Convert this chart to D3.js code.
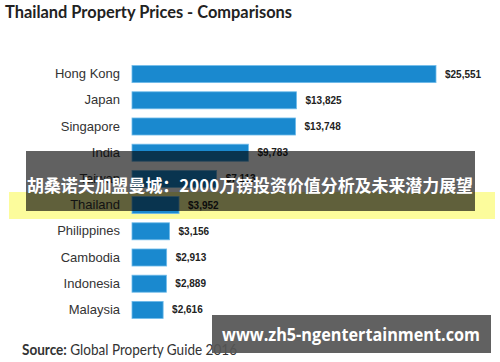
<!DOCTYPE html>
<html><head><meta charset="utf-8">
<script src="https://cdn.jsdelivr.net/npm/d3@7"></script>
<style>html,body{margin:0;padding:0;background:#fff;}svg{display:block;}</style>
</head><body>
<svg id="c" width="500" height="362"></svg>
<script>
const categories = ["Hong Kong","Japan","Singapore","India","Taiwan","Thailand","Philippines","Cambodia","Indonesia","Malaysia"];
const prices = [25551,13825,13748,9783,7113,3952,3156,2913,2889,2616];
const valueLabels = ["$25,551","$13,825","$13,748","$9,783","$7,113","$3,952","$3,156","$2,913","$2,889","$2,616"];
const titleText = "Thailand Property Prices - Comparisons";
const sourceBold = "Source:";
const sourceText = " Global Property Guide 2016";
const bannerText = "胡桑诺夫加盟曼城：2000万镑投资价值分析及未来潜力展望";
const watermarkText = "www.zh5-ngentertainment.com";

const svg = d3.select("#c");
const x = d3.scaleLinear().domain([0, 25551]).range([132, 436]);
const y = d3.scaleBand().domain(categories).range([61, 323]).paddingInner(0.35).paddingOuter(0.175);

// title
svg.append("text").attr("x",5).attr("y",18).attr("font-family","Lato, 'Open Sans', sans-serif")
  .attr("font-weight","bold").attr("font-size",16.5).attr("fill","#222")
  .attr("textLength",287).attr("lengthAdjust","spacingAndGlyphs").text(titleText);

// yellow band (behind bars)
svg.append("rect").attr("x",9).attr("y",192).attr("width",486).attr("height",27).attr("fill","#fcfc9c");

// bars
svg.append("g").selectAll("rect").data(categories).join("rect")
  .attr("x", x(0)).attr("y", d=>y(d)).attr("width",(d,i)=>x(prices[i])-x(0)).attr("height",y.bandwidth())
  .attr("fill","#1a89cf").attr("stroke","#6fbbea").attr("stroke-width",0.8);

// category axis labels
const yAxis = d3.axisLeft(y).tickSize(0).tickPadding(0);
const ga = svg.append("g").attr("transform","translate(120,0)").call(yAxis);
ga.select(".domain").remove();
ga.selectAll("text").attr("font-family","'Liberation Sans', Arial, sans-serif").attr("font-size",13).attr("fill","#333");

// value labels
svg.append("g").selectAll("text").data(categories).join("text")
  .attr("x",(d,i)=>x(prices[i])+9).attr("y",d=>y(d)+y.bandwidth()/2).attr("dy","0.35em")
  .attr("font-family","'Liberation Sans', Arial, sans-serif").attr("font-weight","bold").attr("font-size",10)
  .attr("fill","#222").text((d,i)=>valueLabels[i]);

// source
const st = svg.append("text").attr("x",22).attr("y",355).attr("font-family","Lato, 'Open Sans', sans-serif")
  .attr("font-size",15).attr("fill","#333").attr("textLength",215).attr("lengthAdjust","spacingAndGlyphs");
st.append("tspan").attr("font-weight","bold").text(sourceBold);
st.append("tspan").text(sourceText);

// dark banner overlay
svg.append("rect").attr("x",26).attr("y",151).attr("width",449).attr("height",60).attr("fill","#000").attr("opacity",0.62);
svg.append("text").attr("x",250).attr("y",184.5).attr("text-anchor","middle").attr("dominant-baseline","central")
  .attr("font-family","'Noto Sans CJK SC', sans-serif").attr("font-weight","bold").attr("font-size",17)
  .attr("fill","#fff").attr("textLength",446).attr("lengthAdjust","spacingAndGlyphs").text(bannerText);

// watermark
svg.append("rect").attr("x",212).attr("y",315).attr("width",279).attr("height",38).attr("fill","#555").attr("opacity",0.93);
svg.append("text").attr("x",222).attr("y",341).attr("font-family","'Open Sans', sans-serif").attr("font-weight","bold")
  .attr("font-size",17).attr("fill","#fff").attr("textLength",258).attr("lengthAdjust","spacingAndGlyphs").text(watermarkText);
</script>
</body></html>
